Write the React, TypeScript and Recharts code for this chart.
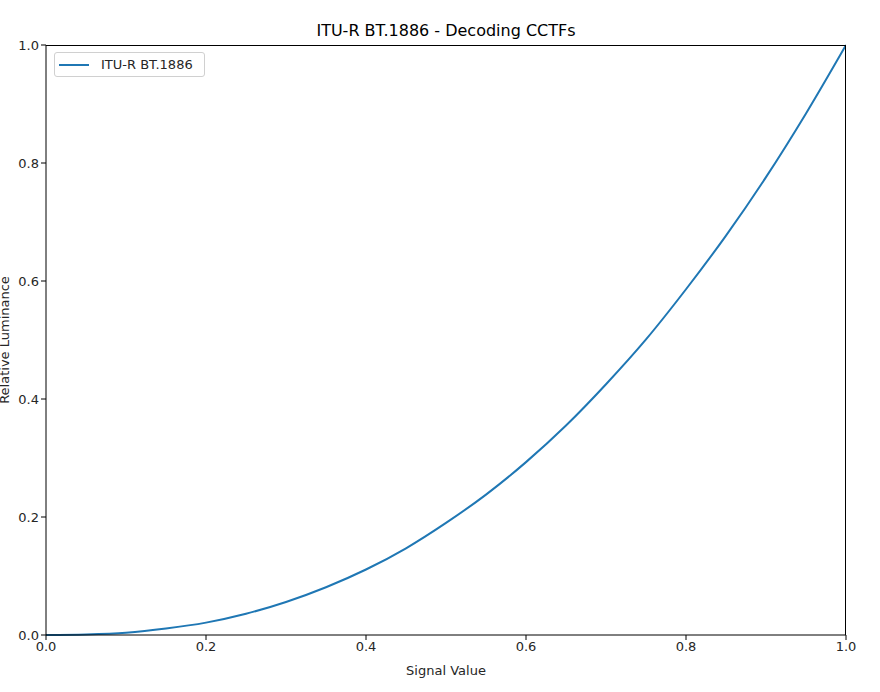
import React from "react";
import { Line, LineChart, XAxis, YAxis } from "recharts";

const signal = [0, 0.05, 0.1, 0.15, 0.2, 0.25, 0.3, 0.35, 0.4, 0.45, 0.5, 0.55, 0.6, 0.65, 0.7, 0.75, 0.8, 0.85, 0.9, 0.95, 1.0];
const luminance = [0, 0.001, 0.004, 0.011, 0.021, 0.036, 0.056, 0.081, 0.111, 0.147, 0.19, 0.238, 0.293, 0.355, 0.425, 0.501, 0.586, 0.677, 0.776, 0.884, 1.0];
const ticks = [0, 0.2, 0.4, 0.6, 0.8, 1.0];

const data = signal.map((s, i) => ({ signal: s, bt1886: luminance[i] }));

const font = "DejaVu Sans, sans-serif";
const tickStyle = { fontSize: 13, fill: "#262626", fontFamily: font };
const fmt = (v: number) => v.toFixed(1);

function LegendBox() {
  return (
    <div
      style={{
        position: "absolute",
        left: 54,
        top: 52,
        border: "1px solid #d0d0d0",
        borderRadius: 3,
        background: "#fff",
        display: "flex",
        alignItems: "center",
        width: 151,
        height: 25,
        boxSizing: "border-box",
        fontFamily: font,
        fontSize: 13,
        color: "#262626",
      }}
    >
      <svg width={43} height={10} style={{ marginLeft: 3 }}>
        <line x1={1} y1={5} x2={31} y2={5} stroke="#1f77b4" strokeWidth={2} />
      </svg>
      <span>ITU-R BT.1886</span>
    </div>
  );
}

export default function App() {
  return (
    <div style={{ position: "absolute", left: 0, top: 0, width: 880, height: 692, background: "#fff" }}>
      <div
        style={{
          position: "absolute",
          top: 21,
          left: 46,
          width: 800,
          textAlign: "center",
          fontFamily: font,
          fontSize: 16,
          color: "#000",
        }}
      >
        ITU-R BT.1886 - Decoding CCTFs
      </div>
      <div
        style={{
          position: "absolute",
          left: 4,
          top: 340,
          transform: "translate(-50%, -50%) rotate(-90deg)",
          whiteSpace: "nowrap",
          fontFamily: font,
          fontSize: 13,
          color: "#262626",
        }}
      >
        Relative Luminance
      </div>
      <div
        style={{
          position: "absolute",
          top: 663,
          left: 46,
          width: 800,
          textAlign: "center",
          fontFamily: font,
          fontSize: 13,
          color: "#262626",
        }}
      >
        Signal Value
      </div>
      <div style={{ position: "absolute", left: 0, top: 0 }}>
        <LineChart width={880} height={692} data={data} margin={{ top: 45, right: 34, bottom: 27, left: 6 }}>
          <XAxis
            dataKey="signal"
            type="number"
            domain={[0, 1]}
            ticks={ticks}
            tickFormatter={fmt}
            tick={tickStyle}
            stroke="#000"
            tickLine={{ stroke: "#000" }}
            tickSize={5}
            height={30}
            allowDataOverflow
          />
          <YAxis
            type="number"
            domain={[0, 1]}
            ticks={ticks}
            tickFormatter={fmt}
            tick={tickStyle}
            stroke="#000"
            tickLine={{ stroke: "#000" }}
            tickSize={5}
            width={40}
          />
          <Line
            type="monotone"
            dataKey="bt1886"
            name="ITU-R BT.1886"
            stroke="#1f77b4"
            strokeWidth={2}
            dot={false}
            isAnimationActive={false}
          />
        </LineChart>
      </div>
      <div
        style={{
          position: "absolute",
          left: 46,
          top: 45,
          width: 800,
          height: 590,
          borderTop: "1px solid #000",
          borderRight: "1px solid #000",
          boxSizing: "border-box",
          pointerEvents: "none",
        }}
      />
      <LegendBox />
    </div>
  );
}
